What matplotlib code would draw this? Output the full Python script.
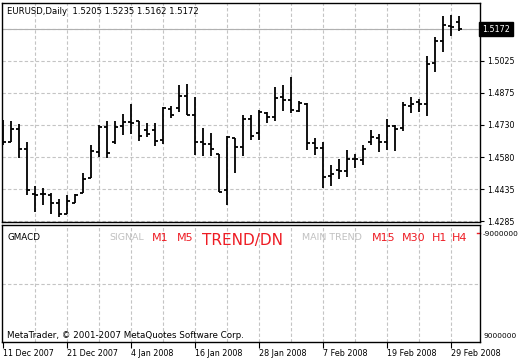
import matplotlib
matplotlib.use("Agg")
import matplotlib.pyplot as plt

# daily EURUSD bars
opens = [1.4743, 1.4650, 1.4710, 1.4618, 1.4410, 1.4410, 1.4405, 1.4368, 1.4317, 1.4368,
         1.4414, 1.4484, 1.4604, 1.4720, 1.4650, 1.4724, 1.4743, 1.4747, 1.4706, 1.4706,
         1.4660, 1.4803, 1.4808, 1.4863, 1.4775, 1.4650, 1.4641, 1.4595, 1.4428, 1.4669,
         1.4627, 1.4757, 1.4692, 1.4784, 1.4766, 1.4858, 1.4845, 1.4794, 1.4826, 1.4646,
         1.4623, 1.4493, 1.4521, 1.4516, 1.4572, 1.4567, 1.4650, 1.4669, 1.4650, 1.4724,
         1.4715, 1.4817, 1.4835, 1.4826, 1.5016, 1.5117, 1.5187, 1.5205]
highs = [1.4752, 1.4747, 1.4734, 1.4650, 1.4447, 1.4438, 1.4414, 1.4387, 1.4405, 1.4410,
         1.4507, 1.4636, 1.4729, 1.4747, 1.4747, 1.4780, 1.4826, 1.4747, 1.4738, 1.4738,
         1.4812, 1.4817, 1.4914, 1.4919, 1.4858, 1.4715, 1.4692, 1.4595, 1.4678, 1.4669,
         1.4775, 1.4775, 1.4798, 1.4789, 1.4905, 1.4914, 1.4951, 1.4840, 1.4831, 1.4669,
         1.4650, 1.4544, 1.4572, 1.4613, 1.4595, 1.4636, 1.4706, 1.4687, 1.4757, 1.4729,
         1.4835, 1.4858, 1.4849, 1.5048, 1.5136, 1.5233, 1.5238, 1.5235]
lows = [1.4636, 1.4650, 1.4576, 1.4405, 1.4327, 1.4359, 1.4317, 1.4303, 1.4317, 1.4368,
        1.4414, 1.4484, 1.4581, 1.4576, 1.4641, 1.4683, 1.4687, 1.4655, 1.4673, 1.4632,
        1.4641, 1.4761, 1.4789, 1.4775, 1.4590, 1.4586, 1.4586, 1.4419, 1.4359, 1.4507,
        1.4586, 1.4660, 1.4660, 1.4738, 1.4747, 1.4794, 1.4784, 1.4789, 1.4613, 1.4590,
        1.4438, 1.4447, 1.4479, 1.4488, 1.4530, 1.4544, 1.4636, 1.4604, 1.4613, 1.4609,
        1.4701, 1.4784, 1.4789, 1.4771, 1.4974, 1.5067, 1.5141, 1.5162]
closes = [1.4650, 1.4710, 1.4618, 1.4428, 1.4405, 1.4410, 1.4368, 1.4317, 1.4377, 1.4405,
          1.4479, 1.4609, 1.4720, 1.4599, 1.4720, 1.4743, 1.4738, 1.4678, 1.4687, 1.4655,
          1.4808, 1.4775, 1.4863, 1.4775, 1.4650, 1.4641, 1.4618, 1.4419, 1.4673, 1.4627,
          1.4757, 1.4678, 1.4789, 1.4766, 1.4854, 1.4845, 1.4798, 1.4831, 1.4646, 1.4623,
          1.4488, 1.4502, 1.4516, 1.4572, 1.4572, 1.4618, 1.4673, 1.4650, 1.4724, 1.4710,
          1.4821, 1.4826, 1.4826, 1.5011, 1.5117, 1.5192, 1.5182, 1.5172]

date_labels = ["11 Dec 2007", "21 Dec 2007", "4 Jan 2008", "16 Jan 2008",
               "28 Jan 2008", "7 Feb 2008", "19 Feb 2008", "29 Feb 2008"]
price_ticks = [1.5173, 1.5025, 1.4877, 1.4729, 1.4581, 1.4433, 1.4285]
price_labels = ["", "1.5025", "1.4875", "1.4730", "1.4580", "1.4435", "1.4285"]

W, H = 520, 360
GRID = dict(color="#c4c4c4", lw=0.8, ls=(0, (3, 2)), zorder=0)


def px_axes(fig, x0, y0, x1, y1):
    return fig.add_axes([x0 / W, 1 - y1 / H, (x1 - x0) / W, (y1 - y0) / H])


def ftext(fig, x, y, s, **kw):
    fig.text(x / W, 1 - y / H, s, va="center", **kw)


fig = plt.figure(figsize=(W / 100, H / 100), dpi=100)
fig.patch.set_facecolor("white")

n = len(closes)
xs = list(range(n))
xlim = (-0.125, 59.625)

# price panel
ax = px_axes(fig, 2, 3, 480, 222)
ax.set_xlim(*xlim)
ax.set_ylim(1.42804, 1.52932)
for g in range(4, n, 4):
    ax.axvline(g, **GRID)
for p in price_ticks:
    ax.axhline(p, **GRID)
ax.axhline(closes[-1], color="#b0b0b0", lw=0.8, zorder=0)

ax.vlines(xs, lows, highs, color="black", lw=1.3)
ax.hlines(opens, [x - 0.4 for x in xs], xs, color="black", lw=1.3)
ax.hlines(closes, xs, [x + 0.4 for x in xs], color="black", lw=1.3)

ax.set_xticks([])
ax.yaxis.tick_right()
ax.set_yticks(price_ticks)
ax.set_yticklabels(price_labels)
ax.tick_params(axis="y", direction="out", length=3, pad=2, labelsize=5.7, width=0.8)
for s in ax.spines.values():
    s.set_linewidth(1.0)

ftext(fig, 7, 11, "EURUSD,Daily  %.4f %.4f %.4f %.4f" % (opens[-1], highs[-1], lows[-1], closes[-1]),
      fontsize=6.1)
ftext(fig, 482, 29, "%.4f" % closes[-1], fontsize=5.8, color="white",
      bbox=dict(boxstyle="square,pad=0.35", fc="black", ec="black"))

# indicator panel
ax2 = px_axes(fig, 2, 225, 480, 342)
ax2.set_xlim(*xlim)
ax2.set_ylim(0, 2)
for g in range(4, n, 4):
    ax2.axvline(g, **GRID)
ax2.axhline(1, **GRID)
ax2.set_yticks([])
ax2.set_xticks(range(0, n, 8))
ax2.set_xticklabels(date_labels, ha="left")
ax2.tick_params(axis="x", direction="out", length=4, pad=1, labelsize=5.8, width=0.8)
for s in ax2.spines.values():
    s.set_linewidth(1.0)

red = "#ee1c24"
gray = "#c0c0c0"
ftext(fig, 7, 237, "GMACD", fontsize=6.3)
ftext(fig, 109, 238, "SIGNAL", fontsize=6.8, color=gray)
ftext(fig, 152, 238, "M1", fontsize=8, color=red)
ftext(fig, 177, 238, "M5", fontsize=8, color=red)
ftext(fig, 202, 240, "TREND/DN", fontsize=11, color=red)
ftext(fig, 302, 238, "MAIN TREND", fontsize=6.8, color=gray)
ftext(fig, 372, 238, "M15", fontsize=8, color=red)
ftext(fig, 402, 238, "M30", fontsize=8, color=red)
ftext(fig, 432, 238, "H1", fontsize=8, color=red)
ftext(fig, 452, 238, "H4", fontsize=8, color=red)
ax2.plot([59.3, 59.6], [1.87, 1.87], color=red, lw=1, clip_on=False)
ftext(fig, 7, 335, "MetaTrader, \u00a9 2001-2007 MetaQuotes Software Corp.", fontsize=6.3)
ftext(fig, 483, 234, "-9000000", fontsize=5.3)
ftext(fig, 483, 336, "9000000", fontsize=5.3)

fig.savefig("out.png", dpi=100)
